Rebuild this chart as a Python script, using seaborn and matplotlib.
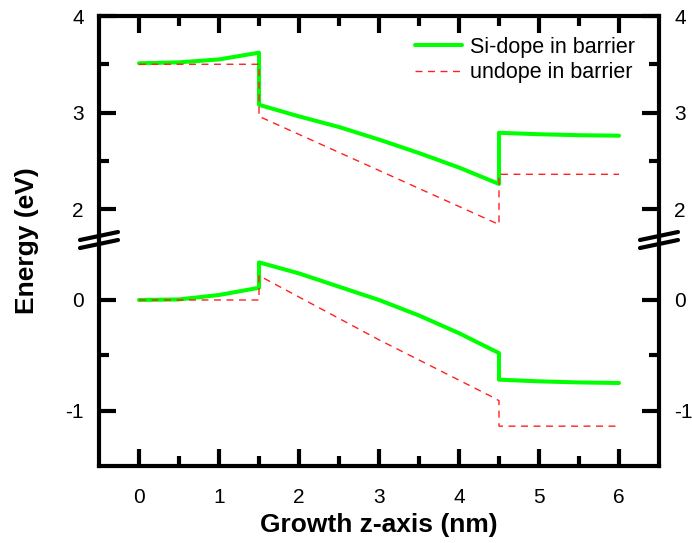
import matplotlib
matplotlib.use("Agg")
import matplotlib.pyplot as plt
from matplotlib.ticker import FixedLocator
from matplotlib.lines import Line2D
import numpy as np
import pandas as pd
import seaborn as sns

# Conduction band edge (upper panel), eV vs growth position, nm
z_cb_dope = [0.0, 0.5, 1.0, 1.5, 1.5, 2.0, 2.5, 3.0, 3.5, 4.0, 4.5, 4.5, 5.0, 5.5, 6.0]
cb_dope = [3.51, 3.52, 3.55, 3.62, 3.08, 2.96, 2.85, 2.72, 2.58, 2.43, 2.26, 2.79, 2.775, 2.765, 2.76]
z_cb_undope = [0.0, 1.5, 1.5, 4.5, 4.5, 6.0]
cb_undope = [3.50, 3.50, 2.96, 1.84, 2.36, 2.36]

# Valence band edge (lower panel)
z_vb_dope = [0.0, 0.5, 1.0, 1.5, 1.5, 2.0, 2.5, 3.0, 3.5, 4.0, 4.5, 4.5, 5.0, 5.5, 6.0]
vb_dope = [0.0, 0.005, 0.045, 0.11, 0.34, 0.24, 0.12, 0.0, -0.14, -0.30, -0.48, -0.72, -0.735, -0.745, -0.75]
z_vb_undope = [0.0, 1.5, 1.5, 3.0, 4.4, 4.5, 4.5, 6.0]
vb_undope = [0.0, 0.0, 0.22, -0.36, -0.87, -0.91, -1.14, -1.14]

series_labels = ["Si-dope in barrier", "undope in barrier"]
x_ticks = [0, 1, 2, 3, 4, 5, 6]
upper_ticks = [2, 3, 4]
lower_ticks = [-1, 0]

sns.set_theme(style="white")
plt.rcParams["font.family"] = ["Liberation Sans", "DejaVu Sans"]
plt.rcParams["axes.unicode_minus"] = False
plt.rcParams["text.color"] = "black"
plt.rcParams["axes.labelcolor"] = "black"
plt.rcParams["xtick.color"] = "black"
plt.rcParams["ytick.color"] = "black"

GREEN = "#00ff00"
RED = "#ff2020"
TICK_FS = 15

fig = plt.figure(figsize=(6.92, 5.43), dpi=100)
left, right = 99 / 692, 659 / 692
top, brk, bottom = 1 - 16 / 543, 1 - 238 / 543, 1 - 466 / 543
ax_up = fig.add_axes([left, brk, right - left, top - brk])
ax_lo = fig.add_axes([left, bottom, right - left, brk - bottom])


def frame(z, e, name):
    return pd.DataFrame({"z": z, "E": e, "series": name})


def draw(ax, zd, ed, zu, eu):
    sns.lineplot(data=frame(zd, ed, series_labels[0]), x="z", y="E", sort=False,
                 estimator=None, ax=ax, color=GREEN, lw=2.9, legend=False)
    sns.lineplot(data=frame(zu, eu, series_labels[1]), x="z", y="E", sort=False,
                 estimator=None, ax=ax, color=RED, lw=1.0, legend=False)
    ax.lines[-1].set_linestyle((0, (5, 4)))
    ax.set_xlim(-0.5, 6.5)
    ax.set_xlabel("")
    ax.set_ylabel("")
    for s in ax.spines.values():
        s.set_linewidth(3)
        s.set_color("black")
    ax.xaxis.set_major_locator(FixedLocator(x_ticks))
    ax.xaxis.set_minor_locator(FixedLocator(np.arange(0.5, 6.0, 1.0)))
    ax.tick_params(which="both", direction="in", width=3, color="black",
                   left=True, right=True, labelsize=TICK_FS, labelcolor="black")
    ax.tick_params(which="major", length=12)
    ax.tick_params(which="minor", length=7)
    ax.tick_params(axis="y", which="both", labelleft=True, labelright=True, pad=12)
    ax.tick_params(axis="x", pad=16)
    ax.set_facecolor("white")


draw(ax_up, z_cb_dope, cb_dope, z_cb_undope, cb_undope)
draw(ax_lo, z_vb_dope, vb_dope, z_vb_undope, vb_undope)

ax_up.set_ylim(1.70, 4.0)
ax_up.yaxis.set_major_locator(FixedLocator(upper_ticks))
ax_up.yaxis.set_minor_locator(FixedLocator([2.5, 3.5]))
ax_up.spines["bottom"].set_visible(False)
ax_up.tick_params(axis="x", which="both", bottom=False, top=True, labelbottom=False, labeltop=False)

ax_lo.set_ylim(-1.5, 0.56)
ax_lo.yaxis.set_major_locator(FixedLocator(lower_ticks))
ax_lo.yaxis.set_minor_locator(FixedLocator([-0.5]))
ax_lo.spines["top"].set_visible(False)
ax_lo.tick_params(axis="x", which="both", bottom=True, top=False, labelbottom=True)

# Right-hand labels sit a little closer to the spine
for t in ax_lo.yaxis.get_major_ticks() + ax_up.yaxis.get_major_ticks():
    t.label2.set_x(1.0)
ax_lo.tick_params(axis="y", which="major", pad=11)
ax_up.tick_params(axis="y", which="major", pad=11)

# Axis-break marks on both vertical spines
for xs in (left, right):
    x0 = xs - 19 / 692
    x1 = xs + 19 / 692
    for dy in (0, -8 / 543):
        fig.add_artist(Line2D([x0, x1], [brk + dy - 2 / 543, brk + dy + 6 / 543],
                              transform=fig.transFigure, color="black", lw=3,
                              solid_capstyle="round", zorder=10))

handles = [Line2D([], [], color=GREEN, lw=2.9),
           Line2D([], [], color=RED, lw=1.0, ls=(0, (5, 4)))]
fig.legend(handles, series_labels, loc="upper left",
           bbox_to_anchor=(415 / 692, 1 - 37 / 543), bbox_transform=fig.transFigure,
           frameon=False, fontsize=15.5, handlelength=2.2, handletextpad=0.35,
           borderpad=0, borderaxespad=0, labelspacing=0.2)

ax_lo.set_xlabel("Growth z-axis (nm)", fontsize=19, fontweight="bold", labelpad=4)
fig.text(27 / 692, 1 - 241 / 543, "Energy (eV)", rotation=90, ha="center", va="center",
         fontsize=19, fontweight="bold")

fig.savefig("out.png", dpi=100, facecolor="white")
